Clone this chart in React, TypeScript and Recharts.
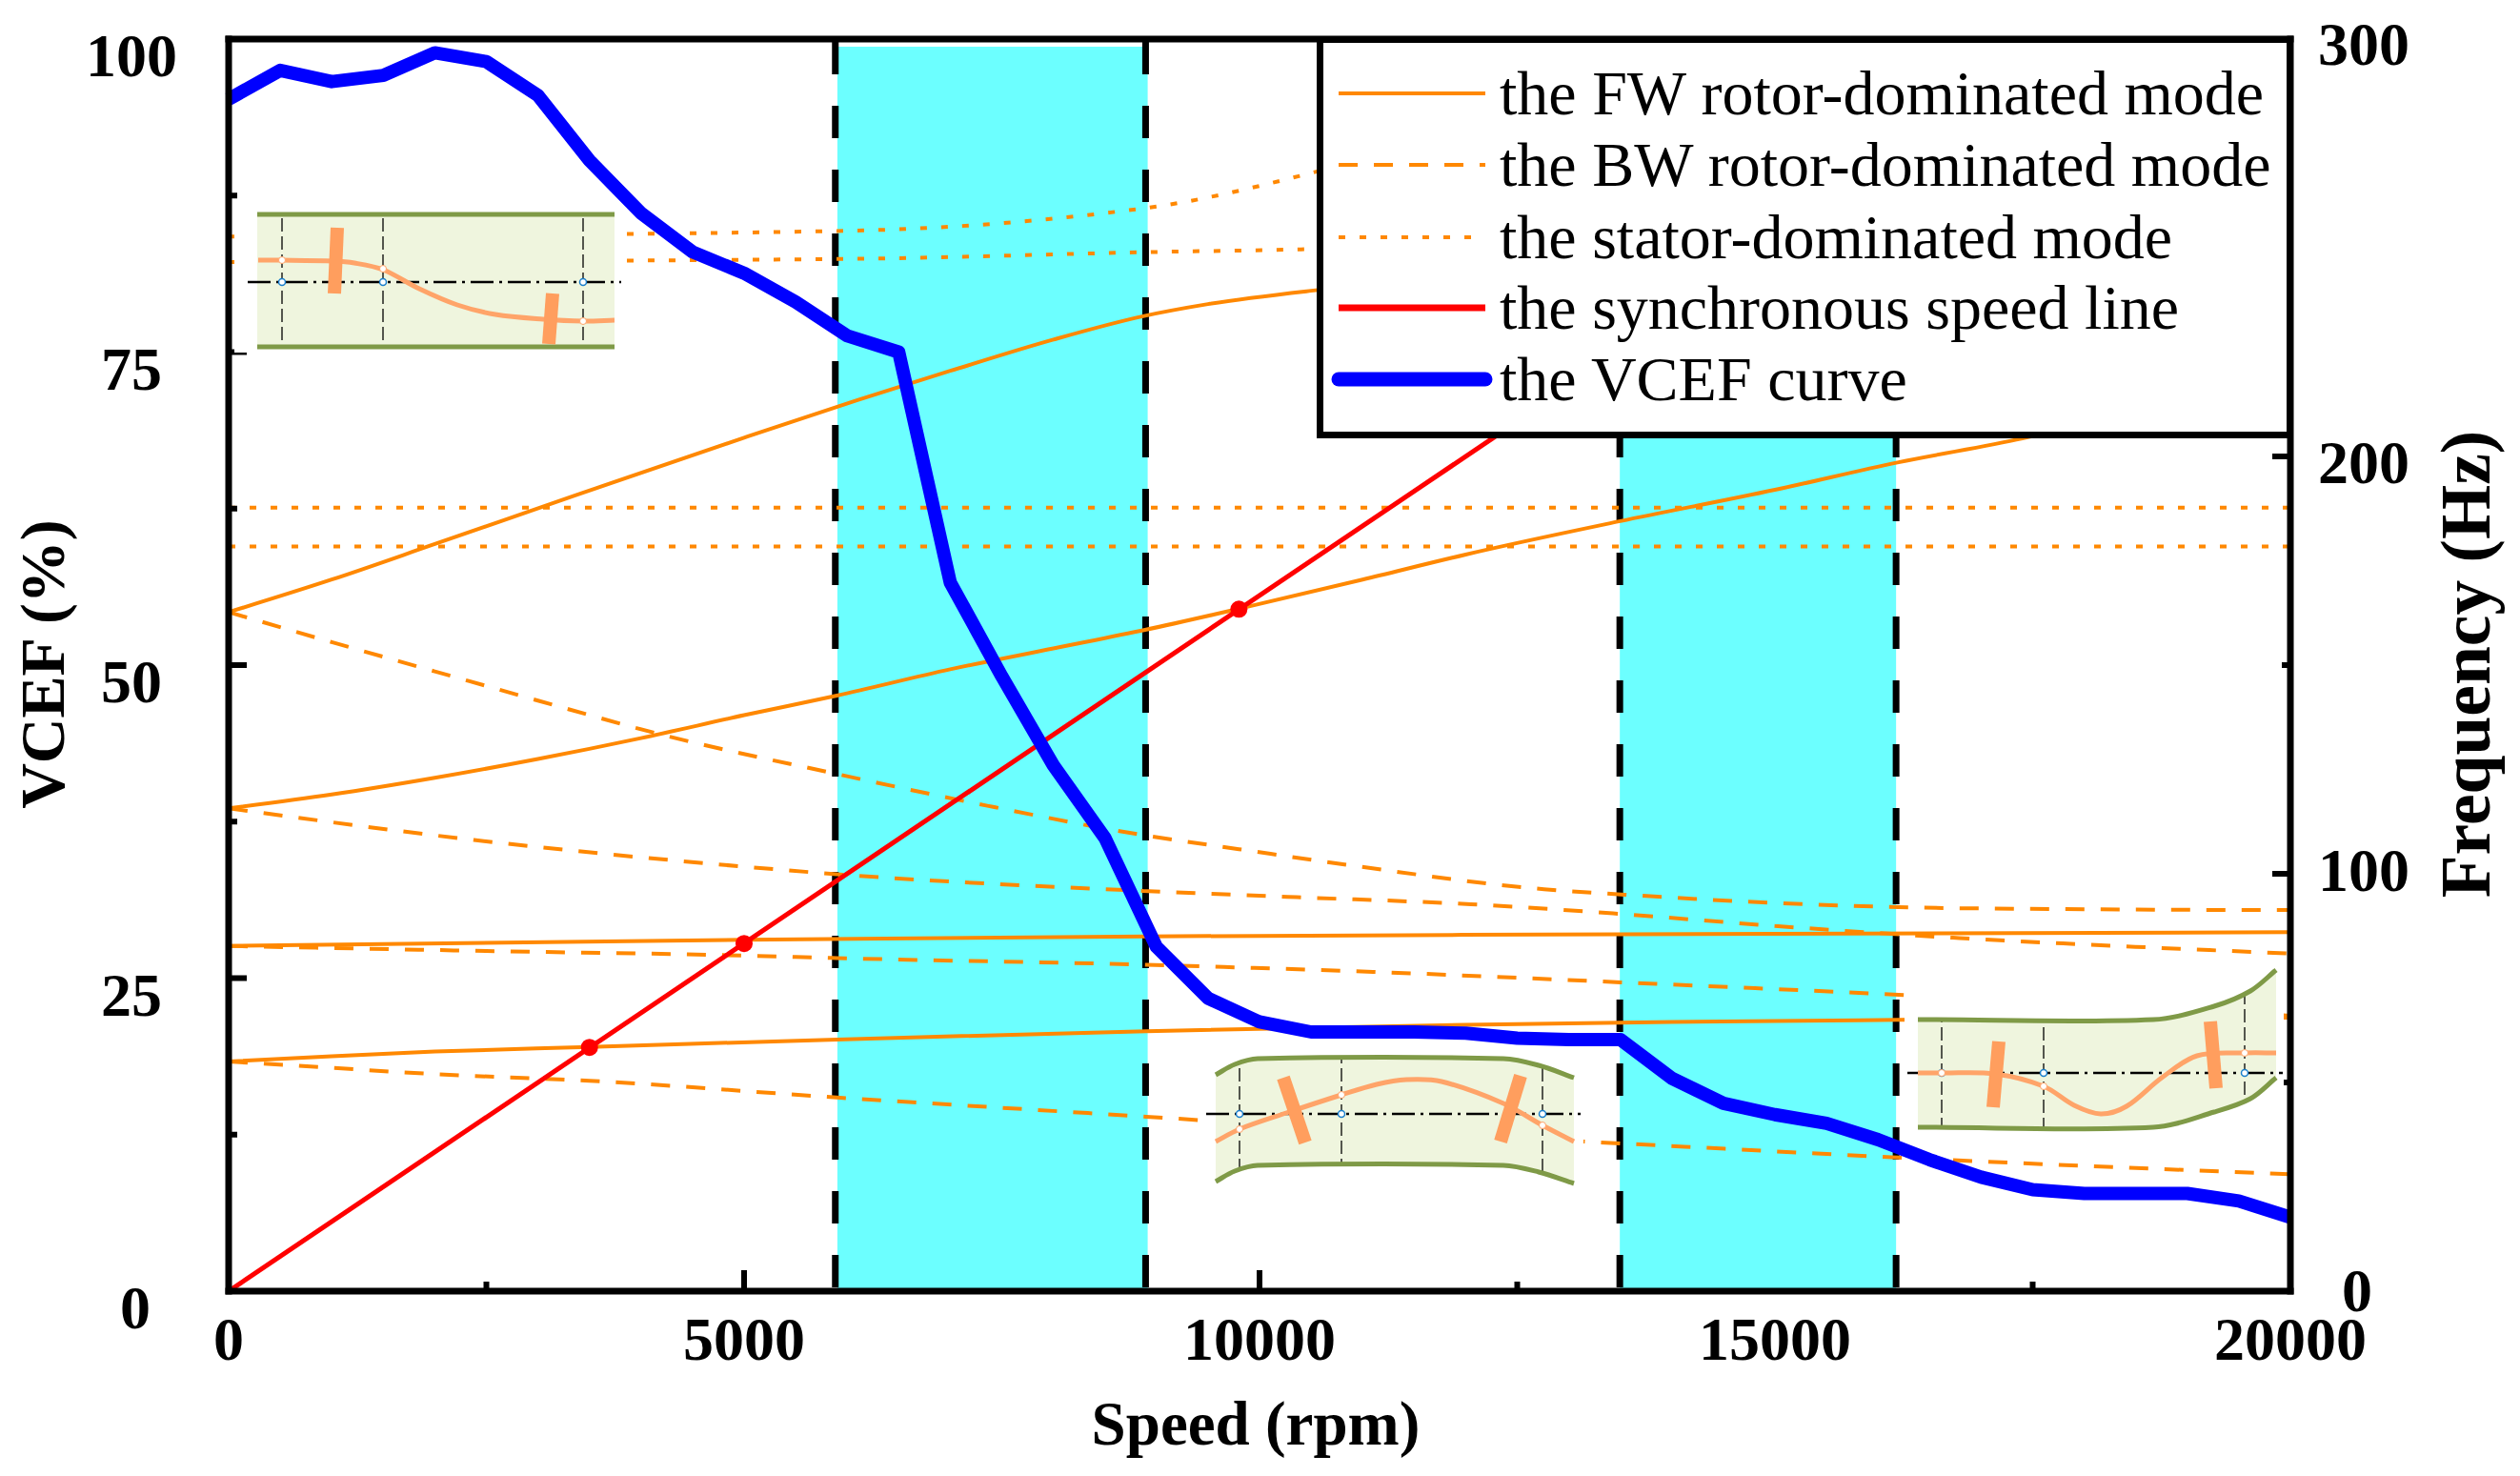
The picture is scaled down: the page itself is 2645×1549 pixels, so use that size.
import { ComposedChart, Line, XAxis, YAxis, ReferenceArea, ReferenceLine, Legend } from 'recharts';

const ORANGE = '#FF8800';
const CYAN = '#6CFFFF';
const SERIF = '"Liberation Serif", serif';

const WIDTH = 2645;
const HEIGHT = 1549;
const PLOT_LEFT = 240;
const PLOT_RIGHT = 2404;
const PLOT_TOP = 41;
const PLOT_BOTTOM = 1355;

// axes
const speedTicks = [0, 2500, 5000, 7500, 10000, 12500, 15000, 17500, 20000];
const vcefTicks = [0, 12.5, 25, 37.5, 50, 62.5, 75, 87.5, 100];
const hzTicks = [0, 50, 100, 150, 200, 250, 300];
const bands = [[5905, 8915], [13495, 16175]];
const bandEdges = [5885, 8895, 13495, 16175];

// the FW rotor-dominated modes (rpm, Hz)
const fw1Speed = [0, 1000, 2000, 3500, 5900, 8900, 12000, 14000, 16200, 20000];
const fw1Hz = [55, 56.3, 57.4, 58.5, 60.3, 62.3, 63.8, 64.5, 65, 65.5];
const fw2Speed = [0, 5000, 8900, 13500, 20000];
const fw2Hz = [82.7, 84.2, 85, 85.5, 86];
const fw3Speed = [0, 1000, 2000, 3000, 4000, 5000, 5900, 7000, 8000, 8900, 9800, 11000, 12000, 13500, 15000, 16200, 17400, 20000];
const fw3Hz = [115.7, 119, 123, 127.5, 132.5, 138, 142.7, 149, 154, 158.5, 163.5, 170.5, 176.5, 184.5, 192, 198.6, 204.3, 222];
const fw4Speed = [0, 1000, 2000, 3355, 5000, 6100, 7000, 8000, 8870, 9500, 10500, 11000];
const fw4Hz = [162.7, 170.5, 179, 190.6, 204.5, 213.5, 220.5, 228, 233.6, 236.5, 239.7, 241];

// the BW rotor-dominated modes
const bw1Speed = [0, 1000, 2000, 3500, 5900, 8900, 11000, 13500, 16200, 20000];
const bw1Hz = [55, 53.5, 52, 50.4, 46.4, 41.8, 38.5, 35.4, 32, 28];
const bw2Speed = [0, 2500, 5000, 5900, 8900, 11100, 13500, 16200, 20000];
const bw2Hz = [82.7, 81.5, 80.4, 79.8, 78.2, 76.5, 74, 71, 66];
const bw3Speed = [0, 2380, 4680, 5900, 8870, 10360, 12050, 13430, 15000, 16790, 18500, 20000];
const bw3Hz = [115.7, 108.1, 102.4, 99.9, 95.9, 94.4, 92.7, 90.5, 87.5, 84.6, 82.5, 80.9];
const bw4Speed = [0, 1000, 2000, 3000, 4190, 5940, 7360, 8890, 9800, 10890, 12760, 13540, 15000, 16200, 18000, 20000];
const bw4Hz = [162.7, 155.5, 148.5, 141.5, 133.4, 123.7, 116.3, 109.2, 105.9, 102, 96.3, 95, 93, 92, 91.5, 91.3];

// the stator-dominated modes
const st1Speed = [0, 5900, 8600, 9010, 10420, 11500, 12500];
const st1Hz = [252.7, 254, 258.6, 259.9, 267.4, 275, 285];
const st2Speed = [0, 5900, 9010, 10500, 12500];
const st2Hz = [246.6, 247.3, 249, 249.7, 252];
const st3Speed = [0, 20000];
const st3Hz = [178.4, 178.4];
const st4Speed = [0, 20000];
const st4Hz = [187.7, 187.7];

// synchronous speed line and the marked crossings
const syncSpeed = [0, 18000];
const syncHz = [0, 300];
const crossSpeed = [3500, 5000, 9800];
const crossHz = [58.4, 83.3, 163.4];

// VCEF curve, one reading per 500 rpm
const vcefSpeed = [0, 500, 1000, 1500, 2000, 2500, 3000, 3500, 4000, 4500, 5000, 5500, 6000, 6500, 7000, 7500, 8000, 8500, 9000, 9500, 10000, 10500, 11000, 11500, 12000, 12500, 13000, 13500, 14000, 14500, 15000, 15500, 16000, 16500, 17000, 17500, 18000, 18500, 19000, 19500, 20000];
const vcefValues = [95.2, 97.5, 96.6, 97.1, 98.9, 98.2, 95.5, 90.3, 86.1, 83, 81.3, 79, 76.3, 75, 56.6, 49.1, 42, 36.2, 27.5, 23.4, 21.5, 20.7, 20.7, 20.7, 20.6, 20.2, 20.1, 20.1, 17, 15, 14.1, 13.4, 12.1, 10.5, 9.1, 8.1, 7.8, 7.8, 7.8, 7.2, 5.9];

const legendLabels = ['the FW rotor-dominated mode', 'the BW rotor-dominated mode', 'the stator-dominated mode', 'the synchronous speed line', 'the VCEF curve'];

const rows = (speeds: number[], values: number[]) => speeds.map((speed, i) => ({ speed, value: values[i] }));

const solidModes = [rows(fw1Speed, fw1Hz), rows(fw2Speed, fw2Hz), rows(fw3Speed, fw3Hz), rows(fw4Speed, fw4Hz)];
const dashedModes = [rows(bw1Speed, bw1Hz), rows(bw2Speed, bw2Hz), rows(bw3Speed, bw3Hz), rows(bw4Speed, bw4Hz)];
const dottedModes = [rows(st1Speed, st1Hz), rows(st2Speed, st2Hz), rows(st3Speed, st3Hz), rows(st4Speed, st4Hz)];

const inBand = (v: number) => bands.some(([a, b]) => v > a && v < b);

const tickText = { textAnchor: 'middle' as const, fontFamily: SERIF, fontWeight: 700, fontSize: 64 };

function BottomTick({ x, payload }: any) {
  const v = payload.value;
  const major = v % 5000 === 0;
  return (
    <g>
      {!inBand(v) && <line x1={x} x2={x} y1={PLOT_BOTTOM} y2={PLOT_BOTTOM - (major ? 22 : 10)} stroke="#000" strokeWidth={6} />}
      {major && <text x={x} y={1427} {...tickText}>{v}</text>}
    </g>
  );
}

function TopTick({ x, payload }: any) {
  const v = payload.value;
  if (inBand(v) || v === 0 || v === 20000) return null;
  return <line x1={x} x2={x} y1={PLOT_TOP} y2={PLOT_TOP + (v % 5000 === 0 ? 21 : 10)} stroke="#000" strokeWidth={6} />;
}

function LeftTick({ y, payload }: any) {
  const v = payload.value;
  const major = v % 25 === 0;
  return (
    <g>
      <line x1={PLOT_LEFT} x2={PLOT_LEFT + (major ? 19 : 9)} y1={y} y2={y} stroke="#000" strokeWidth={6} />
      {major && <text x={v === 0 ? 142 : 138} y={y + 39} {...tickText}>{v}</text>}
    </g>
  );
}

// the right hand labels sit a little off their ticks in the original
const hzLabelBaseline: Record<number, number> = { 0: 1376, 100: 935, 200: 507, 300: 68 };

function RightTick({ y, payload }: any) {
  const v = payload.value;
  const major = v % 100 === 0;
  return (
    <g>
      <line x1={PLOT_RIGHT} x2={PLOT_RIGHT - (major ? 19 : 9)} y1={y} y2={y} stroke="#000" strokeWidth={6} />
      {major && <text x={v === 0 ? 2474 : 2481} y={hzLabelBaseline[v]} {...tickText}>{v}</text>}
    </g>
  );
}

const axisLine = { stroke: '#000', strokeWidth: 7, strokeLinecap: 'square' as const };

function title(text: string, x: number, y: number, angle: number, fontSize: number) {
  return () => (
    <text x={x} y={y} transform={`rotate(${angle} ${x} ${y})`} textAnchor="middle" fontFamily={SERIF} fontWeight={700} fontSize={fontSize}>
      {text}
    </text>
  );
}

function LegendBox() {
  const rowY = [53, 128, 204, 278, 353];
  const x1 = 16;
  const x2 = 170;
  return (
    <div style={{ position: 'relative', width: 1025, height: 422, boxSizing: 'border-box', border: '7px solid #000', background: '#fff' }}>
      <svg width={1011} height={408} style={{ position: 'absolute', left: 0, top: 0 }}>
        <line x1={x1} x2={x2} y1={rowY[0]} y2={rowY[0]} stroke={ORANGE} strokeWidth={4} />
        <line x1={x1} x2={x2} y1={rowY[1]} y2={rowY[1]} stroke={ORANGE} strokeWidth={4} strokeDasharray="20 17" />
        <line x1={x1} x2={x2 - 10} y1={rowY[2]} y2={rowY[2]} stroke={ORANGE} strokeWidth={4} strokeDasharray="7 15" />
        <line x1={x1} x2={x2} y1={rowY[3]} y2={rowY[3]} stroke="#FF0000" strokeWidth={7} />
        <line x1={x1} x2={x2} y1={rowY[4]} y2={rowY[4]} stroke="#0000FF" strokeWidth={15} strokeLinecap="round" />
        {legendLabels.map((label, i) => (
          <text key={label} x={185} y={rowY[i] + 22} fontFamily={SERIF} fontSize={66} fill="#000">{label}</text>
        ))}
      </svg>
    </div>
  );
}

// small rotor sketches sitting on top of the plot, in page pixels
type Pt = [number, number];
interface Sketch {
  box: [number, number, number, number];
  top: Pt[];
  bottom: Pt[];
  axis: [number, number, number];
  shafts: number[];
  curve: Pt[];
  disks: [Pt, Pt][];
  nodes: Pt[];
}

const sketchA: Sketch = {
  box: [246, 218, 412, 152],
  top: [[270, 225], [645, 225]],
  bottom: [[270, 364], [645, 364]],
  axis: [260, 652, 296],
  shafts: [296, 402, 612],
  curve: [[271, 273], [296, 273], [350, 274], [372, 276], [402, 283], [440, 303], [480, 320], [520, 330], [570, 335], [612, 337], [645, 336]],
  disks: [[[354, 239], [351, 308]], [[580, 308], [576, 361]]],
  nodes: [[296, 273], [402, 282], [612, 337]],
};

const sketchB: Sketch = {
  box: [1260, 1100, 402, 150],
  top: [[1276, 1128], [1296, 1117], [1320, 1111], [1578, 1111], [1615, 1118], [1652, 1131]],
  bottom: [[1276, 1240], [1296, 1229], [1320, 1223], [1578, 1223], [1615, 1230], [1652, 1242]],
  axis: [1266, 1659, 1169],
  shafts: [1301, 1408, 1619],
  curve: [[1276, 1198], [1301, 1185], [1350, 1168], [1408, 1149], [1445, 1138], [1476, 1133], [1513, 1135], [1578, 1158], [1619, 1181], [1652, 1198]],
  disks: [[[1347, 1131], [1370, 1199]], [[1596, 1129], [1575, 1198]]],
  nodes: [[1301, 1185], [1408, 1149], [1619, 1181]],
};

const sketchC: Sketch = {
  box: [1999, 1012, 398, 178],
  top: [[2013, 1070], [2260, 1070], [2324, 1056], [2362, 1040], [2389, 1018]],
  bottom: [[2013, 1183], [2260, 1183], [2324, 1167], [2362, 1153], [2389, 1131]],
  axis: [2002, 2396, 1126],
  shafts: [2038, 2145, 2356],
  curve: [[2013, 1126], [2038, 1126], [2094, 1127], [2145, 1140], [2177, 1160], [2205, 1169], [2232, 1161], [2269, 1131], [2306, 1108], [2356, 1105], [2389, 1105]],
  disks: [[[2098, 1093], [2092, 1162]], [[2320, 1072], [2326, 1142]]],
  nodes: [[2038, 1126], [2145, 1140], [2356, 1105]],
};

const sketches = [sketchA, sketchB, sketchC];

// chord-scaled Catmull-Rom, keeps the flat stretches flat
function smooth(list: Pt[]) {
  let d = `M ${list[0][0]} ${list[0][1]}`;
  const dist = (a: Pt, b: Pt) => Math.hypot(a[0] - b[0], a[1] - b[1]) || 1;
  for (let i = 0; i < list.length - 1; i++) {
    const p0 = list[Math.max(i - 1, 0)];
    const p1 = list[i];
    const p2 = list[i + 1];
    const p3 = list[Math.min(i + 2, list.length - 1)];
    const d12 = dist(p1, p2);
    const a = d12 / (3 * (dist(p0, p1) + d12));
    const b = d12 / (3 * (d12 + dist(p2, p3)));
    const c1x = p1[0] + (p2[0] - p0[0]) * a;
    const c1y = p1[1] + (p2[1] - p0[1]) * a;
    const c2x = p2[0] - (p3[0] - p1[0]) * b;
    const c2y = p2[1] - (p3[1] - p1[1]) * b;
    d += ` C ${c1x} ${c1y} ${c2x} ${c2y} ${p2[0]} ${p2[1]}`;
  }
  return d;
}

const outline = (s: Sketch) => `${smooth(s.top)} ${smooth([...s.bottom].reverse()).replace('M', 'L')} Z`;

function SketchLayer() {
  return (
    <svg width={WIDTH} height={HEIGHT} style={{ position: 'absolute', left: 0, top: 0, pointerEvents: 'none' }}>
      {sketches.map((s, i) => (
        <g key={i}>
          <rect x={s.box[0]} y={s.box[1]} width={s.box[2]} height={s.box[3]} fill="#fff" />
          <path d={outline(s)} fill="#EFF5DE" />
          <clipPath id={`sk${i}`}>
            <path d={outline(s)} />
          </clipPath>
          <g clipPath={`url(#sk${i})`}>
            {s.shafts.map((x) => (
              <line key={x} x1={x} x2={x} y1={s.axis[2] - 200} y2={s.axis[2] + 200} stroke="#000" strokeWidth={1.3} strokeDasharray="14 5" />
            ))}
          </g>
          <path d={smooth(s.top)} fill="none" stroke="#7F9A47" strokeWidth={5} />
          <path d={smooth(s.bottom)} fill="none" stroke="#7F9A47" strokeWidth={5} />
          <line x1={s.axis[0]} x2={s.axis[1]} y1={s.axis[2]} y2={s.axis[2]} stroke="#000" strokeWidth={2.5} strokeDasharray="24 6 3 6" />
          {s.shafts.map((x) => (
            <circle key={x} cx={x} cy={s.axis[2]} r={3.5} fill="#fff" stroke="#1B7FCC" strokeWidth={1.5} />
          ))}
          <path d={smooth(s.curve)} fill="none" stroke="#FFA469" strokeWidth={5} />
          {s.disks.map(([a, b], k) => (
            <line key={k} x1={a[0]} y1={a[1]} x2={b[0]} y2={b[1]} stroke="#FF9E5E" strokeWidth={14} />
          ))}
          {s.nodes.map(([x, y], k) => (
            <circle key={k} cx={x} cy={y} r={3.5} fill="#fff" stroke="#FFA469" strokeWidth={1} />
          ))}
        </g>
      ))}
    </svg>
  );
}

export default function App() {
  return (
    <div style={{ position: 'absolute', left: 0, top: 0, width: WIDTH, height: HEIGHT, background: '#fff' }}>
      <ComposedChart width={WIDTH} height={HEIGHT} margin={{ top: PLOT_TOP - 1, right: 0, bottom: 0, left: 0 }}>
        <XAxis
          dataKey="speed"
          type="number"
          domain={[0, 20000]}
          ticks={speedTicks}
          interval={0}
          height={HEIGHT - PLOT_BOTTOM}
          tickSize={0}
          tickMargin={0}
          tickLine={false}
          tick={BottomTick}
          axisLine={axisLine}
          label={{ content: title('Speed (rpm)', 1318, 1516, 0, 65) }}
        />
        <XAxis
          xAxisId="top"
          orientation="top"
          dataKey="speed"
          type="number"
          domain={[0, 20000]}
          ticks={speedTicks}
          interval={0}
          height={1}
          tickSize={0}
          tickMargin={0}
          tickLine={false}
          tick={TopTick}
          axisLine={axisLine}
        />
        <YAxis
          yAxisId="vcef"
          type="number"
          domain={[0, 100]}
          ticks={vcefTicks}
          interval={0}
          width={PLOT_LEFT}
          tickSize={0}
          tickMargin={0}
          tickLine={false}
          tick={LeftTick}
          axisLine={axisLine}
          label={{ content: title('VCEF (%)', 67, 697, -90, 66) }}
        />
        <YAxis
          yAxisId="hz"
          orientation="right"
          type="number"
          domain={[0, 300]}
          ticks={hzTicks}
          interval={0}
          width={WIDTH - PLOT_RIGHT}
          tickSize={0}
          tickMargin={0}
          tickLine={false}
          tick={RightTick}
          axisLine={axisLine}
          label={{ content: title('Frequency (Hz)', 2613, 697, -90, 73.5) }}
        />

        {bands.map(([a, b]) => (
          <ReferenceArea key={a} yAxisId="vcef" x1={a} x2={b} y1={0} y2={99.4} fill={CYAN} fillOpacity={1} stroke="none" />
        ))}
        {bandEdges.map((x) => (
          <ReferenceLine key={x} yAxisId="vcef" x={x} stroke="#000" strokeWidth={7} strokeDasharray="34 33" strokeDashoffset={63} />
        ))}

        {solidModes.map((data, i) => (
          <Line key={i} yAxisId="hz" type="monotone" data={data} dataKey="value" stroke={ORANGE} strokeWidth={4} dot={false} isAnimationActive={false} />
        ))}
        {dashedModes.map((data, i) => (
          <Line key={i} yAxisId="hz" type="monotone" data={data} dataKey="value" stroke={ORANGE} strokeWidth={4} strokeDasharray="20 17" dot={false} isAnimationActive={false} />
        ))}
        {dottedModes.map((data, i) => (
          <Line key={i} yAxisId="hz" type="monotone" data={data} dataKey="value" stroke={ORANGE} strokeWidth={4} strokeDasharray="7 15" dot={false} isAnimationActive={false} />
        ))}
        <Line yAxisId="hz" data={rows(syncSpeed, syncHz)} dataKey="value" stroke="#FF0000" strokeWidth={5} dot={false} isAnimationActive={false} />
        <Line yAxisId="hz" data={rows(crossSpeed, crossHz)} dataKey="value" stroke="none" dot={{ r: 9, fill: '#FF0000', stroke: 'none' }} isAnimationActive={false} />
        <Line yAxisId="vcef" data={rows(vcefSpeed, vcefValues)} dataKey="value" stroke="#0000FF" strokeWidth={14} strokeLinejoin="round" dot={false} isAnimationActive={false} />

        <Legend
          layout="horizontal"
          verticalAlign="middle"
          align="center"
          content={<LegendBox />}
          wrapperStyle={{ position: 'absolute', left: 1382, top: 38, width: 1025, height: 422, margin: 0, zIndex: 5 }}
        />
      </ComposedChart>
      <SketchLayer />
    </div>
  );
}
